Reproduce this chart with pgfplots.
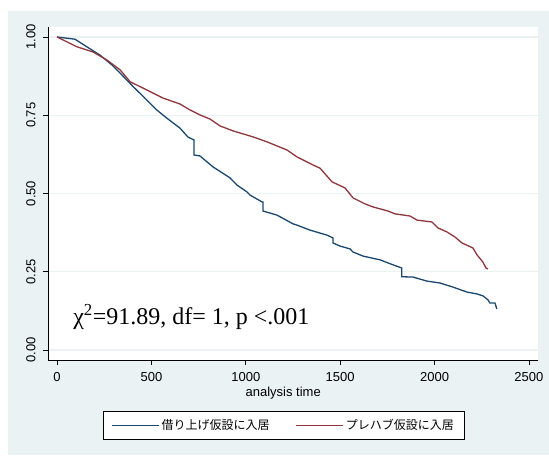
\documentclass[border=0pt]{standalone}
\usepackage{fontspec}
\setmainfont{Liberation Sans}
\newfontfamily\cjk{Noto Sans CJK JP}
\newfontfamily\tnr{Liberation Serif}
\usepackage{pgfplots}
\pgfplotsset{compat=1.18}

\definecolor{stnavy}{RGB}{26,71,111}
\definecolor{stmaroon}{RGB}{144,53,59}
\definecolor{stbg}{RGB}{234,242,243}

\pgfplotsset{
    km line/.style={line width=1.3bp},
}

\begin{document}
\begin{tikzpicture}[x=1bp,y=1bp]
\useasboundingbox (-48,-96) rectangle (501,360);
\fill[white] (-48,-96) rectangle (501,360);
\fill[stbg] (-40,-95) rectangle (501,349);

\begin{axis}[
    at={(0,0)}, anchor=south west,
    scale only axis,
    width=490bp, height=333bp,
    xmin=-48, xmax=2548,
    ymin=-0.032, ymax=1.032,
    axis x line*=bottom,
    axis y line*=left,
    axis line style={black, line width=0.9bp, -},
    axis background/.style={fill=white},
    tick align=outside,
    major tick length=5bp,
    tick style={black, line width=0.8bp},
    xtick={0,500,...,2500},
    ytick={0,0.25,0.5,0.75,1},
    yticklabels={0.00,0.25,0.50,0.75,1.00},
    ymajorgrids,
    grid style={stbg, line width=1.4bp},
    /pgf/number format/assume math mode=true,
    /pgf/number format/1000 sep={},
    ticklabel style={font=\fontsize{13bp}{15bp}\selectfont},
    xticklabel style={yshift=-4bp},
    yticklabel style={xshift=-4bp, rotate=90, anchor=south},
    xlabel={analysis time},
    xlabel style={font=\fontsize{13bp}{15bp}\selectfont, at={(axis description cs:0.48,-0.1)}, anchor=center},
    legend columns=2,
    legend style={at={(axis description cs:0.4806,-0.1967)}, anchor=center,
        fill=white,
        font=\cjk\fontsize{12bp}{14bp}\selectfont,
        /tikz/every even column/.append style={column sep=24bp},
        inner ysep=6bp, inner xsep=8bp},
    legend image code/.code={\draw[#1] (0bp,0bp) -- (47bp,0bp);},
]

\addplot[color=stnavy, km line] coordinates {
(0,1.0) (95,0.993) (157,0.969) (228,0.942) (290,0.911) (343,0.879)
(404,0.841) (475,0.799) (528,0.767) (581,0.741) (651,0.709) (694,0.680)
(726,0.671) (726,0.623) (757,0.620) (826,0.585) (916,0.550) (953,0.527)
(1006,0.505) (1022,0.495) (1086,0.473) (1091,0.473) (1091,0.444)
(1165,0.431) (1250,0.403) (1271,0.399) (1340,0.383) (1430,0.367)
(1462,0.358) (1462,0.342) (1499,0.332) (1552,0.323) (1568,0.313)
(1621,0.300) (1711,0.288) (1780,0.272) (1826,0.262) (1826,0.234)
(1886,0.233) (1960,0.220) (2029,0.214) (2097,0.201) (2172,0.185)
(2225,0.179) (2256,0.173) (2283,0.160) (2293,0.150) (2320,0.150)
(2330,0.131)
};
\addlegendentry{借り上げ仮設に入居}

\addplot[color=stmaroon, km line] coordinates {
(0,1.0) (51,0.985) (104,0.969) (191,0.952) (263,0.927) (334,0.895)
(387,0.857) (475,0.831) (561,0.805) (651,0.786) (704,0.767) (757,0.751)
(810,0.738) (863,0.716) (932,0.700) (1038,0.681) (1112,0.665)
(1218,0.639) (1271,0.617) (1356,0.591) (1393,0.581) (1457,0.537)
(1525,0.518) (1568,0.486) (1631,0.467) (1674,0.457) (1753,0.444)
(1790,0.435) (1870,0.428) (1907,0.415) (1986,0.409) (2018,0.390)
(2066,0.377) (2108,0.361) (2145,0.342) (2203,0.326) (2225,0.304)
(2256,0.281) (2272,0.262) (2283,0.259)
};
\addlegendentry{プレハブ仮設に入居}

\node[anchor=base west, inner sep=0pt, font=\tnr\fontsize{24bp}{28bp}\selectfont]
    at (axis cs:85,0.083) {χ\textsuperscript{2}=91.89, df= 1, p <.001};
\end{axis}
\end{tikzpicture}
\end{document}
